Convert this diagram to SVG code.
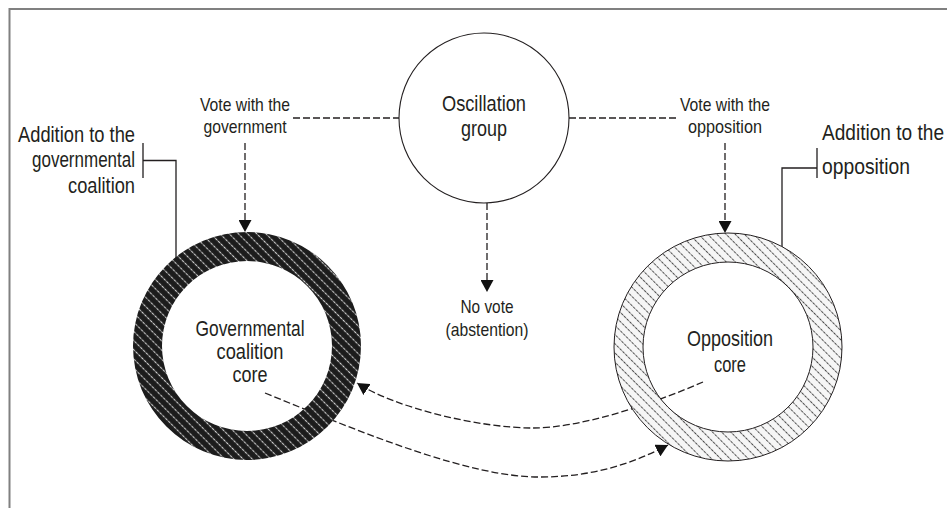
<svg xmlns="http://www.w3.org/2000/svg" width="947" height="508" viewBox="0 0 947 508">
<style>
text{font-family:"Liberation Sans",Arial,sans-serif;fill:#231f20}
.big{font-size:22px}
.sm{font-size:19px}
.mid{text-anchor:middle}
.end{text-anchor:end}
.dash{fill:none;stroke:#231f20;stroke-width:1.3;stroke-dasharray:7 3}
.solid{fill:none;stroke:#231f20;stroke-width:1.3}
.frame{fill:none;stroke:#808080;stroke-width:2}
</style>
<defs>
<marker id="arr" viewBox="0 0 12 13" refX="12" refY="6.5" markerWidth="12" markerHeight="13" markerUnits="userSpaceOnUse" orient="auto">
<path d="M0,0 L12,6.5 L0,13 Z" fill="#111"/>
</marker>
<pattern id="hatchDark" patternUnits="userSpaceOnUse" width="6.5" height="4" patternTransform="rotate(-45)">
<rect width="6.5" height="4" fill="#1c1c1c"/>
<line x1="3.25" y1="0.5" x2="3.25" y2="3.5" stroke="#d2d2d2" stroke-width="1.1"/>
</pattern>
<pattern id="hatchLight" patternUnits="userSpaceOnUse" width="6.5" height="4" patternTransform="rotate(-45)">
<rect width="6.5" height="4" fill="#f6f6f6"/>
<line x1="3.25" y1="0.5" x2="3.25" y2="3.5" stroke="#4a4a4a" stroke-width="1"/>
</pattern>
</defs>
<rect width="947" height="508" fill="#fff"/>
<path class="frame" d="M9.5,508 V9 H947"/>

<g id="connectors">
<path class="dash" d="M293,118 H399"/>
<path class="dash" d="M569,118 H679"/>
<path class="dash" d="M245,143 V232" marker-end="url(#arr)"/>
<path class="dash" d="M725,143 V233" marker-end="url(#arr)"/>
<path class="dash" d="M487,203 V292" marker-end="url(#arr)"/>
<path class="dash" d="M703,382 C650,405 580,428 533,428 C480,428 395,408 357,383" marker-end="url(#arr)"/>
<path class="dash" d="M265,393 C370,436 470,477 540,477 C590,477 630,465 668,445" marker-end="url(#arr)"/>
<path class="solid" d="M143,143 V178 M143,160.5 H176 V258"/>
<path class="solid" d="M817,148 V178 M817,168 H782 V263"/>
</g>

<g id="oscillation">
<circle cx="484" cy="118" r="85" fill="none" stroke="#231f20" stroke-width="1.1"/>
<text class="big mid" x="484" y="111" textLength="84" lengthAdjust="spacingAndGlyphs">Oscillation</text>
<text class="big mid" x="484" y="136" textLength="46" lengthAdjust="spacingAndGlyphs">group</text>
</g>

<g id="gov-core">
<path d="M133,346 a114,114 0 1,0 228,0 a114,114 0 1,0 -228,0 Z M162,346 a85,85 0 1,0 170,0 a85,85 0 1,0 -170,0 Z" fill="url(#hatchDark)" fill-rule="evenodd"/>
<text class="big mid" x="250" y="336" textLength="109" lengthAdjust="spacingAndGlyphs">Governmental</text>
<text class="big mid" x="250" y="359" textLength="67" lengthAdjust="spacingAndGlyphs">coalition</text>
<text class="big mid" x="250" y="382" textLength="35" lengthAdjust="spacingAndGlyphs">core</text>
</g>

<g id="opp-core">
<path d="M614,347 a114,114 0 1,0 228,0 a114,114 0 1,0 -228,0 Z M643,347 a85,85 0 1,0 170,0 a85,85 0 1,0 -170,0 Z" fill="url(#hatchLight)" fill-rule="evenodd" stroke="#231f20" stroke-width="1"/>
<text class="big mid" x="730" y="346" textLength="86" lengthAdjust="spacingAndGlyphs">Opposition</text>
<text class="big mid" x="730" y="372" textLength="32" lengthAdjust="spacingAndGlyphs">core</text>
</g>

<g id="vote-gov">
<text class="sm mid" x="245" y="111" textLength="90" lengthAdjust="spacingAndGlyphs">Vote with the</text>
<text class="sm mid" x="245" y="133" textLength="83" lengthAdjust="spacingAndGlyphs">government</text>
</g>

<g id="vote-opp">
<text class="sm mid" x="725" y="111" textLength="90" lengthAdjust="spacingAndGlyphs">Vote with the</text>
<text class="sm mid" x="725" y="133" textLength="74" lengthAdjust="spacingAndGlyphs">opposition</text>
</g>

<g id="no-vote">
<text class="sm mid" x="487" y="313" textLength="53" lengthAdjust="spacingAndGlyphs">No vote</text>
<text class="sm mid" x="487" y="336" textLength="83" lengthAdjust="spacingAndGlyphs">(abstention)</text>
</g>

<g id="add-gov">
<text class="big end" x="135" y="142" textLength="117" lengthAdjust="spacingAndGlyphs">Addition to the</text>
<text class="big end" x="135" y="167" textLength="103" lengthAdjust="spacingAndGlyphs">governmental</text>
<text class="big end" x="135" y="193" textLength="67" lengthAdjust="spacingAndGlyphs">coalition</text>
</g>

<g id="add-opp">
<text class="big" x="822" y="140" textLength="122" lengthAdjust="spacingAndGlyphs">Addition to the</text>
<text class="big" x="822" y="174" textLength="88" lengthAdjust="spacingAndGlyphs">opposition</text>
</g>
</svg>
